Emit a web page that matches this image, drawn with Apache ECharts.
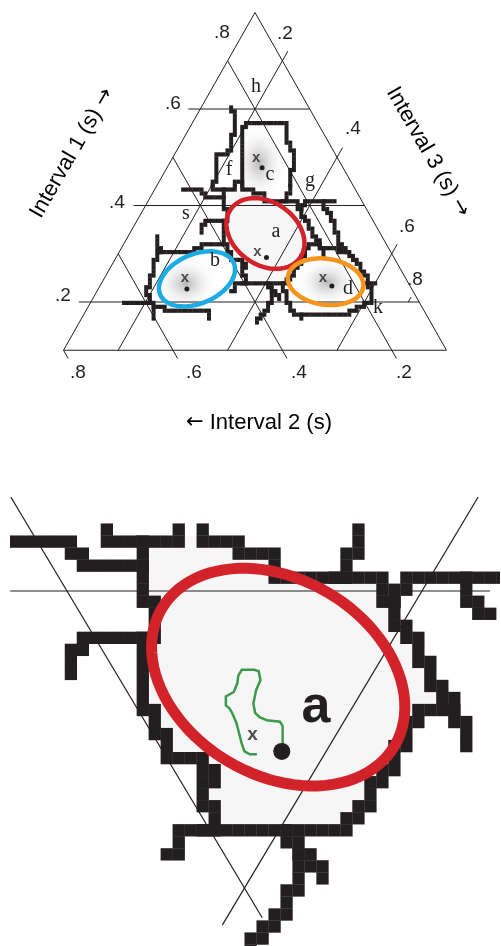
<!DOCTYPE html>
<html>
<head>
<meta charset="utf-8">
<script src="https://cdn.jsdelivr.net/npm/echarts/dist/echarts.min.js"></script>
<style>
  html, body { margin: 0; padding: 0; background: #fff; }
  #chart { width: 501px; height: 946px; }
</style>
</head>
<body>
<div id="chart"></div>
<script>
// every point is [interval 1, interval 2]; interval 3 = 1 - i1 - i2
const GRID_TICKS = [0.2, 0.4, 0.6];
const EDGE = 0.1;                       // each interval starts at .1 in this window
const CORNERS = [[0.8, 0.1], [0.1, 0.8], [0.1, 0.1], [0.8, 0.1]];
const I1_LABELS = ['.8', '.6', '.4', '.2'];
const I2_LABELS = ['.8', '.6', '.4', '.2'];
const I3_LABELS = ['.2', '.4', '.6', '.8'];
const ZOOM_TICK = 0.4;                  // the three lines seen in the enlarged panel

// cluster means (dots) and the "x" marks
const CLUSTER_NAMES = ['a', 'b', 'c', 'd'];
const MEAN_POINTS = [[0.292, 0.333], [0.227, 0.511], [0.478, 0.248], [0.233, 0.243]];
const X_POINTS = [[0.303, 0.344], [0.250, 0.503], [0.498, 0.249], [0.250, 0.251]];

// ellipses: centre and two semi-axes (deltas of i1, i2)
const ELLIPSE_CENTRES = [[0.342, 0.310], [0.248, 0.482], [0.242, 0.250]];
const ELLIPSE_U = [[-0.0462, -0.0425], [0.0327, -0.0836], [-0.011, -0.0633]];
const ELLIPSE_V = [[-0.0569, 0.0565], [-0.0468, 0.0057], [-0.0472, 0.0295]];
const ELLIPSE_COLORS = ['#d2232a', '#1cace3', '#f7941d'];

// category boundaries around region a (seen in both panels)
const B_F_BASE = [[.445,.352],[.437,.356],[.437,.317],[.445,.313]];
const B_C_BASE = [[.445,.303],[.437,.307],[.437,.286],[.426,.289],[.422,.273],[.409,.278],[.409,.224],[.390,.223]];
const B_G_SPUR = [[.409,.245],[.417,.235],[.426,.227],[.437,.215],[.445,.210]];
const B_G_RIGHT = [[.390,.223],[.407,.206],[.408,.152]];
const B_NUB = [[.407,.172],[.395,.175],[.386,.172]];
const B_A_RIGHT = [[.390,.223],[.379,.224],[.367,.223],[.354,.224],[.342,.225],[.332,.223],[.323,.223],[.317,.222],[.308,.224],[.296,.227]];
const B_A_LOWER = [[.317,.222],[.317,.245],[.308,.253],[.296,.263],[.284,.276],[.273,.286],[.264,.296],[.254,.306],[.244,.318],[.236,.334],[.235,.351],[.235,.418],[.228,.426],[.220,.431]];
const B_A_FOOT = [[.235,.356],[.224,.360],[.205,.369],[.193,.378],[.185,.387],[.173,.399],[.161,.413],[.157,.421]];
const B_FOOT_SPUR = [[.224,.360],[.220,.353],[.212,.351],[.210,.348]];
const B_A_LEFT = [[.235,.403],[.249,.394],[.263,.391],[.274,.382],[.286,.379],[.289,.396],[.300,.397],[.310,.396],[.319,.395],[.333,.389],[.350,.381],[.360,.377],[.370,.370],[.375,.361],[.384,.361],[.397,.357],[.411,.355],[.421,.348],[.437,.339]];
const B_S_ARM = [[.370,.370],[.370,.402],[.362,.412],[.352,.420],[.344,.428]];
const B_S_TOP = [[.421,.348],[.421,.383],[.429,.382],[.437,.381],[.437,.410]];

// boundaries only drawn in the full triangle
const B_F = [[.445,.352],[.474,.336],[.505,.321],[.511,.292],[.540,.272],[.561,.254],[.581,.244],[.602,.243]];
const B_C = [[.445,.313],[.453,.299],[.536,.258],[.561,.245],[.569,.232],[.573,.217],[.573,.155],[.536,.172],[.515,.175],[.484,.187],[.453,.210],[.445,.210]];
const B_C_JOIN = [[.445,.303],[.453,.299]];
const B_D = [[.386,.172],[.353,.177],[.322,.184],[.304,.180],[.287,.174],[.271,.173],[.250,.172],[.225,.177],[.204,.184],[.192,.203],[.183,.235],[.171,.250],[.171,.332],[.188,.342],[.215,.336],[.235,.335]];
const B_D_TOP = [[.316,.223],[.310,.199],[.304,.180]];
const B_D_NUB = [[.235,.185],[.235,.160]];
const B_D_TICK = [[.177,.324],[.163,.331]];
const B_B_TOP = [[.333,.513],[.304,.522],[.300,.478],[.316,.443],[.320,.395]];
const B_B = [[.304,.522],[.283,.541],[.246,.569],[.219,.588],[.200,.592],[.188,.584],[.181,.537],[.181,.497],[.169,.502]];
const B_B_TAIL = [[.200,.641],[.200,.592]];
const B_B_TICK = [[.188,.589],[.167,.599]];

// region a outline (light fill) and the green response trace
const REGION_A = [[.437,.339],[.437,.317],[.437,.307],[.437,.286],[.426,.289],[.422,.273],[.409,.278],[.409,.224],[.390,.223],[.379,.224],[.367,.223],[.354,.224],[.342,.225],[.332,.223],[.323,.223],[.317,.222],[.317,.245],[.308,.253],[.296,.263],[.284,.276],[.273,.286],[.264,.296],[.254,.306],[.244,.318],[.236,.334],[.235,.351],[.235,.403],[.249,.394],[.263,.391],[.274,.382],[.286,.379],[.289,.396],[.300,.397],[.310,.396],[.319,.395],[.333,.389],[.350,.381],[.360,.377],[.370,.370],[.375,.361],[.384,.361],[.397,.357],[.411,.355],[.421,.348]];
const TRACE_A = [[.291,.333],[.309,.324],[.312,.324],[.313,.331],[.315,.334],[.318,.335],[.324,.333],[.333,.327],[.340,.321],[.346,.319],[.347,.321],[.347,.328],[.343,.332],[.338,.335],[.332,.340],[.329,.346],[.323,.349],[.321,.348],[.318,.348],[.311,.349],[.304,.351],[.297,.353],[.292,.354],[.290,.352],[.290,.348]];

const SHARED_BORDERS = [B_F_BASE, B_C_BASE, B_G_SPUR, B_G_RIGHT, B_NUB, B_A_RIGHT, B_A_LOWER, B_A_FOOT, B_FOOT_SPUR, B_A_LEFT, B_S_ARM, B_S_TOP];
const TOP_BORDERS = [B_F, B_C, B_C_JOIN, B_D, B_D_TOP, B_D_NUB, B_D_TICK, B_B_TOP, B_B, B_B_TAIL, B_B_TICK];

const TOP = 0, ZOOM = 1;
const INK = '#231f20';
const SANS = '"Liberation Sans", Arial, Helvetica, sans-serif';
const SERIF = '"Liberation Serif", "Times New Roman", serif';

// ternary -> cartesian plane (x = i3 - i2, y = i1)
const toXY = p => [1 - p[0] - 2 * p[1], p[0]];

// grid lines of the triangle
const gridLines = [CORNERS];
GRID_TICKS.forEach(t => {
  gridLines.push([[t, 1 - t - 0.078], [t, EDGE]]);          // interval 1
  gridLines.push([[1 - t - EDGE, t], [0.083, t]]);          // interval 2
  gridLines.push([[EDGE, 1 - EDGE - t], [1 - t - 0.08, 0.08]]); // interval 3
});
gridLines.push([[0.1, 0.8], [0.083, 0.8]]);
gridLines.push([[0.2, 0.12], [0.21, 0.11]]);

const zoomLines = [
  [[ZOOM_TICK, 0.432], [ZOOM_TICK, 0.1617]],
  [[0.4633, ZOOM_TICK], [0.18, ZOOM_TICK]],
  [[0.4633, 1 - 0.4633 - ZOOM_TICK], [0.175, 1 - 0.175 - ZOOM_TICK]]
];

function pathSeries(paths, axis, shapeType, style, z) {
  return {
    type: 'custom', xAxisIndex: axis, yAxisIndex: axis, z: z, clip: axis === ZOOM, silent: true,
    data: paths.map((p, i) => toXY(p[0]).concat(i)),
    encode: { x: 0, y: 1 },
    renderItem: (params, api) => ({
      type: shapeType,
      shape: { points: paths[params.dataIndex].map(p => api.coord(toXY(p))) },
      style: style
    })
  };
}

// borders are drawn as blocky cells, like the original pixel maps
const CELL = [0.0135, 0.0081];
function cellsOf(path) {
  const seen = new Set(), cells = [];
  const add = (cx, cy) => {
    const k = cx + ':' + cy;
    if (!seen.has(k)) { seen.add(k); cells.push([cx, cy]); }
  };
  let last = null;
  for (let k = 0; k < path.length - 1; k++) {
    const a = toXY(path[k]), b = toXY(path[k + 1]);
    const n = Math.ceil(Math.max(Math.abs(b[0] - a[0]) / CELL[0], Math.abs(b[1] - a[1]) / CELL[1]) * 4) + 1;
    for (let s = 0; s <= n; s++) {
      const cx = Math.floor((a[0] + (b[0] - a[0]) * s / n) / CELL[0]);
      const cy = Math.floor((a[1] + (b[1] - a[1]) * s / n) / CELL[1]);
      if (last && last[0] !== cx && last[1] !== cy) add(cx, last[1]);
      add(cx, cy);
      last = [cx, cy];
    }
  }
  return cells;
}

function borderSeries(paths, axis) {
  return {
    type: 'custom', xAxisIndex: axis, yAxisIndex: axis, z: 4, clip: axis === ZOOM, silent: true,
    data: paths.map((p, i) => toXY(p[0]).concat(i)),
    encode: { x: 0, y: 1 },
    renderItem: (params, api) => ({
      type: 'group',
      children: cellsOf(paths[params.dataIndex]).map(c => {
        const p0 = api.coord([c[0] * CELL[0], (c[1] + 1) * CELL[1]]);
        const p1 = api.coord([(c[0] + 1) * CELL[0], c[1] * CELL[1]]);
        return {
          type: 'rect',
          shape: { x: p0[0], y: p0[1], width: p1[0] - p0[0] + 0.3, height: p1[1] - p0[1] + 0.3 },
          style: { fill: INK }
        };
      })
    })
  };
}

function ellipsePoints(i) {
  const c = ELLIPSE_CENTRES[i], u = ELLIPSE_U[i], v = ELLIPSE_V[i], pts = [];
  for (let k = 0; k < 96; k++) {
    const t = k / 96 * Math.PI * 2;
    pts.push([c[0] + u[0] * Math.cos(t) + v[0] * Math.sin(t), c[1] + u[1] * Math.cos(t) + v[1] * Math.sin(t)]);
  }
  return pts;
}

function ellipseSeries(idx, axis, width) {
  return {
    type: 'custom', xAxisIndex: axis, yAxisIndex: axis, z: 6, clip: axis === ZOOM, silent: true,
    data: idx.map(i => toXY(ELLIPSE_CENTRES[i]).concat(i)),
    encode: { x: 0, y: 1 },
    renderItem: (params, api) => {
      const i = idx[params.dataIndex];
      return {
        type: 'polygon',
        shape: { points: ellipsePoints(i).map(p => api.coord(toXY(p))) },
        style: { fill: null, stroke: ELLIPSE_COLORS[i], lineWidth: width }
      };
    }
  };
}

const glowSizes = [[72, 66], [64, 54], [54, 76], [64, 50]];
const glow = {
  type: 'radial', x: 0.5, y: 0.5, r: 0.5,
  colorStops: [{ offset: 0, color: 'rgba(160,160,160,0.75)' }, { offset: 1, color: 'rgba(255,255,255,0)' }]
};

const series = [
  {
    type: 'scatter', xAxisIndex: TOP, yAxisIndex: TOP, z: 1, silent: true,
    data: MEAN_POINTS.map((m, i) => ({
      value: toXY([(m[0] + X_POINTS[i][0]) / 2, (m[1] + X_POINTS[i][1]) / 2]),
      symbolSize: glowSizes[i]
    })),
    itemStyle: { color: glow, opacity: 1 }
  },
  pathSeries([REGION_A], TOP, 'polygon', { fill: '#f7f7f7' }, 2),
  pathSeries(gridLines, TOP, 'polyline', { fill: null, stroke: INK, lineWidth: 1 }, 3),
  borderSeries(SHARED_BORDERS.concat(TOP_BORDERS), TOP),
  ellipseSeries([0, 1, 2], TOP, 4.5),
  {
    type: 'scatter', xAxisIndex: TOP, yAxisIndex: TOP, z: 7, silent: true,
    symbolSize: 5, itemStyle: { color: INK, opacity: 1 },
    data: MEAN_POINTS.map(toXY)
  },
  {
    type: 'scatter', xAxisIndex: TOP, yAxisIndex: TOP, z: 7, silent: true,
    symbolSize: 1, itemStyle: { color: 'rgba(0,0,0,0)' },
    label: { show: true, position: 'inside', formatter: 'x', fontFamily: SANS, fontWeight: 'bold', fontSize: 15, color: INK },
    data: X_POINTS.map(toXY)
  },

  // enlarged panel around region a
  pathSeries([REGION_A], ZOOM, 'polygon', { fill: '#f6f6f6' }, 2),
  pathSeries(zoomLines, ZOOM, 'polyline', { fill: null, stroke: INK, lineWidth: 1.2 }, 3),
  borderSeries(SHARED_BORDERS, ZOOM),
  ellipseSeries([0], ZOOM, 11),
  pathSeries([TRACE_A], ZOOM, 'polyline', { fill: null, stroke: '#3c9a4c', lineWidth: 2.5 }, 7),
  {
    type: 'scatter', xAxisIndex: ZOOM, yAxisIndex: ZOOM, z: 8, silent: true,
    symbolSize: 17, itemStyle: { color: INK, opacity: 1 },
    data: [toXY(MEAN_POINTS[0])]
  },
  {
    type: 'scatter', xAxisIndex: ZOOM, yAxisIndex: ZOOM, z: 8, silent: true,
    symbolSize: 1, itemStyle: { color: 'rgba(0,0,0,0)' },
    label: { show: true, position: 'inside', formatter: 'x', fontFamily: SANS, fontWeight: 'bold', fontSize: 19, color: INK },
    data: [toXY(X_POINTS[0])]
  }
];

const txt = (text, x, y, font, extra) => Object.assign({
  type: 'text', x: x, y: y, z: 100, silent: true,
  style: { text: text, font: font, fill: INK, align: 'center', verticalAlign: 'middle' }
}, extra || {});

// axis titles with a larger arrow glyph
const titleRich = {
  t: { fontFamily: SANS, fontSize: 22, color: INK },
  ar: { fontFamily: '"DejaVu Sans", sans-serif', fontSize: 21, color: INK }
};
const title = (text, x, y, rotation) => ({
  type: 'text', x: x, y: y, z: 100, silent: true, rotation: rotation,
  style: { text: text, rich: titleRich, align: 'center', verticalAlign: 'middle' }
});

const tickFont = '19px ' + SANS;
const letterFont = '20px ' + SERIF;
const graphics = [
  txt(I1_LABELS[0], 222, 33, tickFont), txt(I1_LABELS[1], 173, 104, tickFont),
  txt(I1_LABELS[2], 117, 203, tickFont), txt(I1_LABELS[3], 63, 296, tickFont),
  txt(I2_LABELS[0], 78, 373, tickFont), txt(I2_LABELS[1], 194, 373, tickFont),
  txt(I2_LABELS[2], 299, 373, tickFont), txt(I2_LABELS[3], 404, 373, tickFont),
  txt(I3_LABELS[0], 285, 34, tickFont), txt(I3_LABELS[1], 353, 129, tickFont),
  txt(I3_LABELS[2], 407, 227, tickFont), txt(I3_LABELS[3], 415, 280, tickFont),
  title('{t|Interval 1 (s) }{ar|\u2192}', 72, 153, Math.PI / 3),
  title('{t|Interval 3 (s) }{ar|\u2192}', 428, 152, -Math.PI / 3),
  title('{ar|\u2190}{t| Interval 2 (s)}', 259, 423, 0),
  txt('h', 256, 87, letterFont), txt('f', 229, 170, letterFont),
  txt('c', 270, 175, letterFont), txt('g', 310, 181, letterFont),
  txt('s', 186, 214, letterFont), txt('b', 215, 261, letterFont),
  txt('a', 276, 232, letterFont), txt('d', 348, 289, letterFont),
  txt('k', 378, 308, letterFont),
  txt(CLUSTER_NAMES[0], 316, 708, 'bold 52px ' + SANS)
];

const chart = echarts.init(document.getElementById('chart'));
chart.setOption({
  animation: false,
  backgroundColor: '#ffffff',
  grid: [
    { left: 63.5, top: 12.5, width: 383, height: 337.75 },
    { left: 10, top: 497, width: 490, height: 449 }
  ],
  xAxis: [
    { gridIndex: 0, type: 'value', min: -0.7, max: 0.7, show: false },
    { gridIndex: 1, type: 'value', min: -0.2642, max: 0.2879, show: false }
  ],
  yAxis: [
    { gridIndex: 0, type: 'value', min: 0.1, max: 0.8, show: false },
    { gridIndex: 1, type: 'value', min: 0.16094, max: 0.4633, show: false }
  ],
  series: series,
  graphic: graphics
});
</script>
</body>
</html>
